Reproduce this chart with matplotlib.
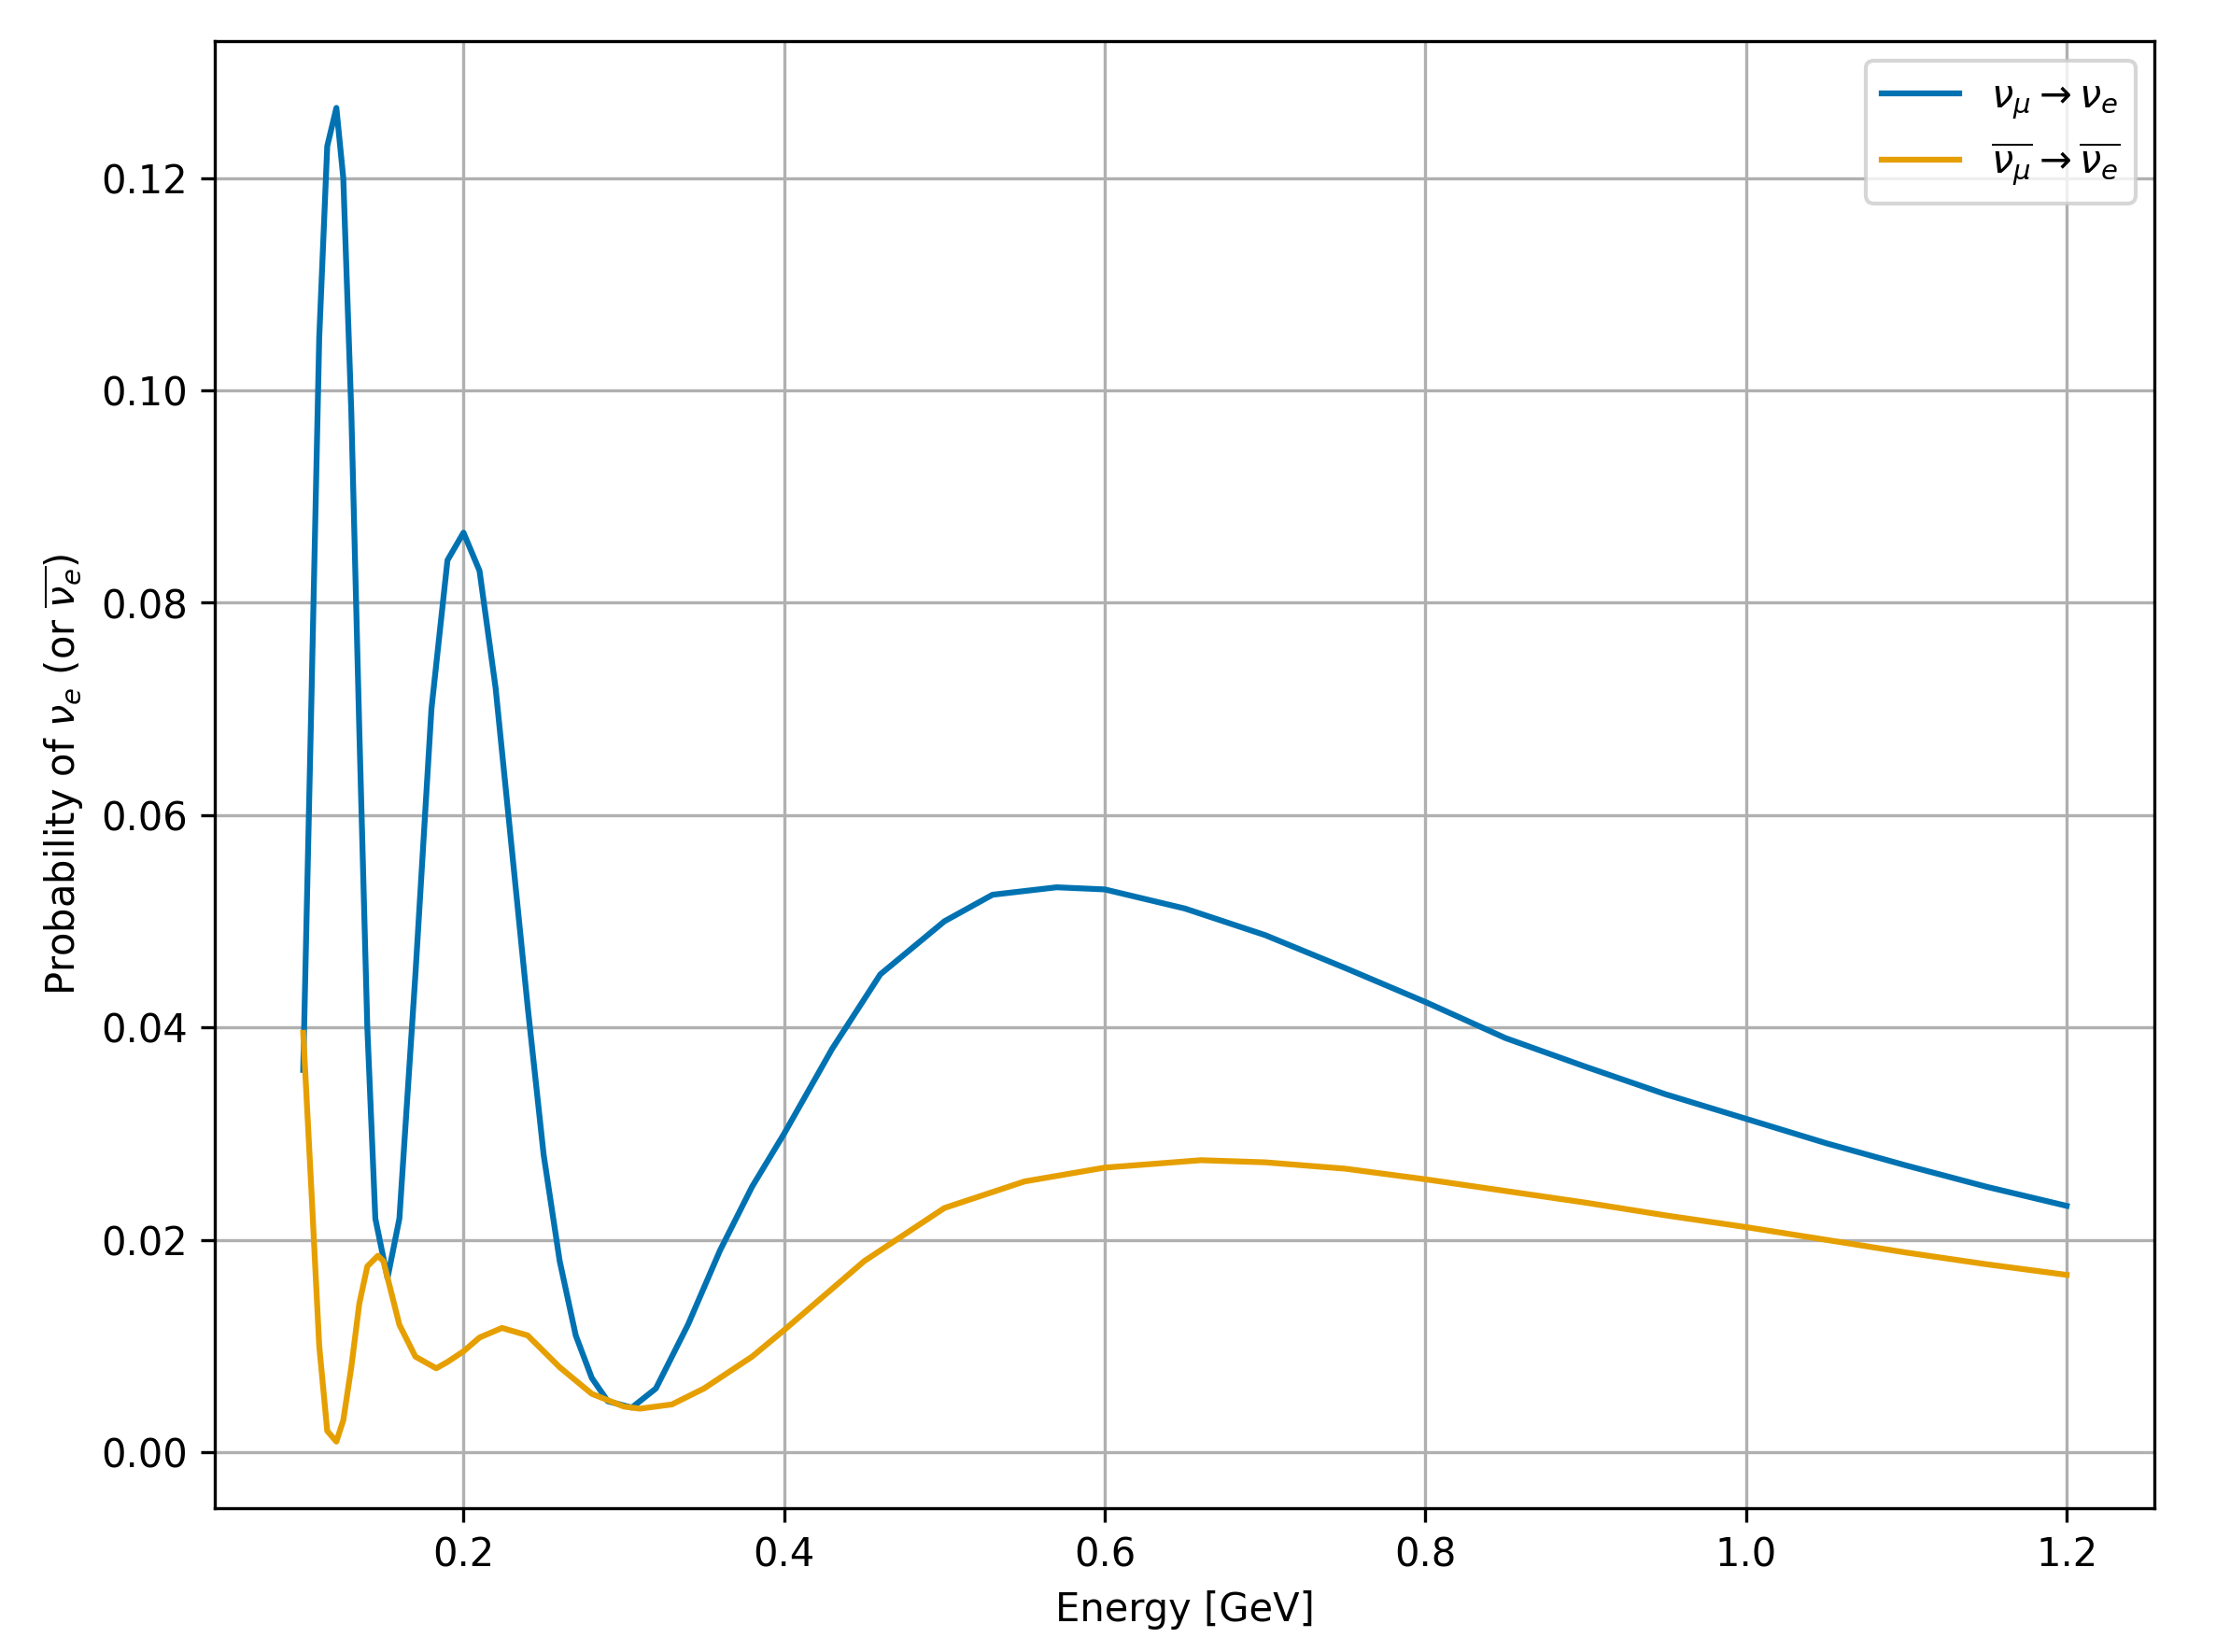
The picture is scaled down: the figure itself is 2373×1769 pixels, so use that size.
import matplotlib
matplotlib.use("Agg")
import matplotlib.pyplot as plt

e_nu = [0.100,0.105,0.110,0.115,0.1207,0.125,0.130,0.135,0.140,0.145,0.1526,0.160,0.170,0.180,0.190,0.200,
        0.210,0.220,0.230,0.240,0.250,0.260,0.270,0.280,0.290,0.305,0.320,0.340,0.360,0.380,0.400,0.430,
        0.460,0.500,0.530,0.570,0.600,0.650,0.700,0.750,0.800,0.850,0.900,0.950,1.000,1.050,1.100,1.150,1.200]
p_nu = [0.036,0.070,0.105,0.123,0.1266,0.120,0.098,0.068,0.040,0.022,0.0164,0.022,0.045,0.070,0.084,0.0866,
        0.083,0.072,0.057,0.042,0.028,0.018,0.011,0.007,0.0048,0.0042,0.006,0.012,0.019,0.025,0.030,0.038,
        0.045,0.050,0.0525,0.0532,0.053,0.0512,0.0487,0.0456,0.0424,0.039,0.0363,0.0337,0.0314,0.0291,0.0270,0.0250,0.0232]

e_anu = [0.100,0.105,0.110,0.115,0.1207,0.125,0.130,0.135,0.140,0.1466,0.150,0.155,0.160,0.170,0.183,0.190,
         0.200,0.210,0.224,0.240,0.260,0.280,0.300,0.310,0.330,0.350,0.380,0.400,0.450,0.500,0.550,0.600,
         0.660,0.700,0.750,0.800,0.850,0.900,0.950,1.000,1.050,1.100,1.150,1.200]
p_anu = [0.0395,0.025,0.010,0.002,0.001,0.003,0.008,0.014,0.0175,0.0185,0.018,0.015,0.012,0.009,0.0079,0.0085,
         0.0095,0.0108,0.0117,0.011,0.008,0.0055,0.0043,0.0041,0.0045,0.006,0.009,0.0115,0.018,0.023,0.0255,0.0268,
         0.0275,0.0273,0.0267,0.0257,0.0246,0.0235,0.0223,0.0212,0.0200,0.0188,0.0177,0.0167]

fig, ax = plt.subplots(figsize=(7.913, 5.897), dpi=300)
ax.plot(e_nu, p_nu, color='#0072B2', label=r'$\nu_\mu \rightarrow \nu_e$')
ax.plot(e_anu, p_anu, color='#E69F00', label=r'$\overline{\nu_\mu} \rightarrow \overline{\nu_e}$')
ax.set_xlabel('Energy [GeV]')
ax.set_ylabel(r'Probability of $\nu_e$ (or $\overline{\nu_e}$)')
ax.grid(True)
ax.legend(loc='upper right')
fig.subplots_adjust(left=0.097, right=0.972, bottom=0.087, top=0.975)
fig.savefig('out.png')
